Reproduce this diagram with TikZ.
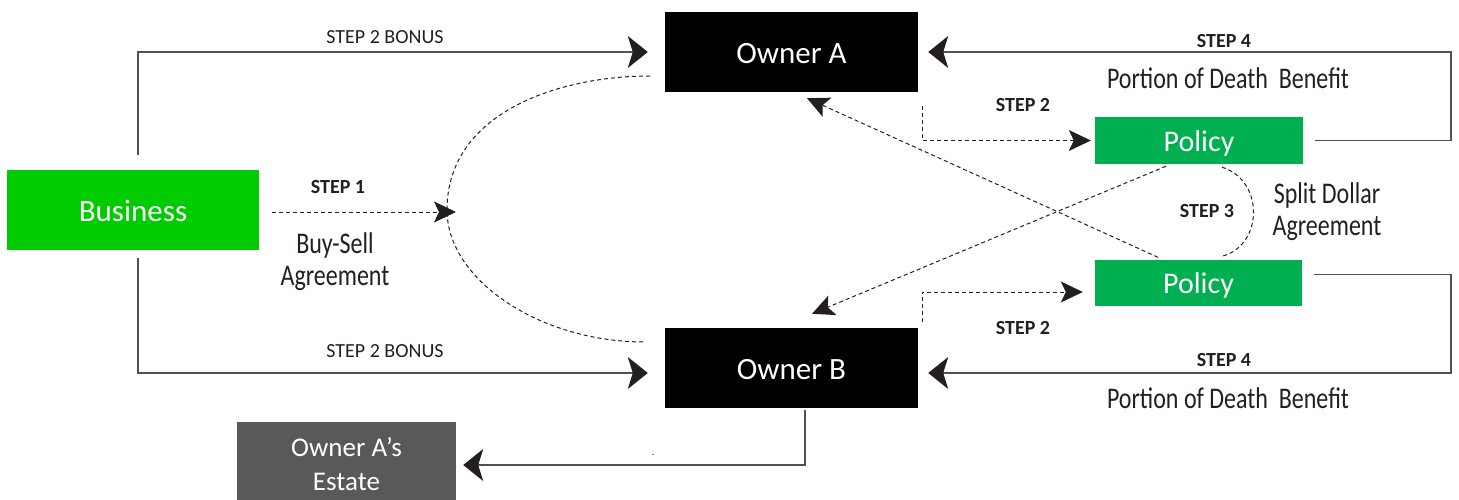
\documentclass[tikz,border=0pt]{standalone}
\usepackage{fontspec}
\setmainfont{Carlito}
\newfontfamily\condfont[FakeStretch=0.8]{Carlito}
\usetikzlibrary{arrows.meta,calc}
\definecolor{bizgreen}{RGB}{0,204,0}
\definecolor{polgreen}{RGB}{0,176,80}
\definecolor{estgray}{RGB}{89,89,89}
\definecolor{ink}{RGB}{35,31,32}
\newcommand{\dropdown}[2]{\raisebox{-#1}[\height][\depth]{#2}}
\begin{document}
\begin{tikzpicture}[x=1pt,y=-1pt,
  box/.style={inner sep=0pt, text=white},
  bigtext/.style={font=\fontsize{31}{36}\selectfont},
  soltip/.style={-{Stealth[length=20pt,width=32pt,inset=5pt,color=ink]}},
  solidarrow/.style={draw=ink!78, line width=1.3pt, soltip},
  dashline/.style={draw=ink, line width=1pt, dash pattern=on 4pt off 3pt},
  dasharrow/.style={dashline, -{Stealth[length=22pt,width=21pt,inset=5pt,color=ink]}},
  lab/.style={font=\fontsize{20}{24}\selectfont, text=ink},
  blab/.style={font=\bfseries\fontsize{20}{24}\selectfont, text=ink},
  clab/.style={font=\condfont\fontsize{30}{32}\selectfont, text=ink, align=center}
]
\useasboundingbox (0,0) rectangle (1459,500);

% boxes
\node[box, bigtext, fill=bizgreen, minimum width=252pt, minimum height=80pt] (business) at (133,210) {\dropdown{1pt}{Business}};
\node[box, bigtext, fill=black, minimum width=253pt, minimum height=80pt] (ownerA) at (791.5,52) {\dropdown{2pt}{Owner A}};
\node[box, bigtext, fill=black, minimum width=253pt, minimum height=80pt] (ownerB) at (791.5,368) {\dropdown{2pt}{Owner B}};
\node[box, font=\fontsize{30}{36}\selectfont, fill=polgreen, minimum width=208pt, minimum height=47pt] (policyA) at (1199,140.5) {\dropdown{3pt}{Policy}};
\node[box, font=\fontsize{30}{36}\selectfont, fill=polgreen, minimum width=207pt, minimum height=46pt] (policyB) at (1198.5,282.5) {\dropdown{3pt}{Policy}};
\node[box, font=\fontsize{27}{34}\selectfont, fill=estgray, minimum width=219pt, minimum height=80pt, align=center] (estate) at (346.5,462) {\dropdown{2pt}{Owner A’s}\\\dropdown{2pt}{Estate}};

% corner coordinates
\coordinate (cA) at (1451,52);
\coordinate (cB) at (1451,373);
\coordinate (s1) at (456,212);
\coordinate (ea) at ($(ownerA.west)+(-15,24)$);
\coordinate (eb) at ($(ownerB.west)+(-20,-26)$);

% solid connectors
\draw[solidarrow, shorten >=17pt] ([xshift=5pt,yshift=15pt]business.north) |- (ownerA.west);
\draw[solidarrow, shorten >=17pt] ([xshift=5pt,yshift=-8pt]business.south) |- ([yshift=-5pt]ownerB.west);
\draw[solidarrow, shorten >=10pt] ([xshift=12pt]policyA.east) -| (cA) -- (ownerA.east);
\draw[solidarrow, shorten >=10pt] ([xshift=12pt,yshift=8pt]policyB.east) -| (cB) -- ([yshift=-5pt]ownerB.east);
\draw[solidarrow, shorten >=7pt] ([xshift=13.5pt,yshift=-2pt]ownerB.south) |- ([yshift=-3pt]estate.east);

% dashed connectors
\draw[dashline] (ea) .. controls (560,76) and (447,112) .. (447,210) .. controls (447,280) and (540,342) .. (eb);
\draw[dasharrow] ([xshift=13pt,yshift=-2pt]business.east) -- (s1);
\draw[dasharrow, shorten >=4pt] ([xshift=4pt,yshift=-14pt]ownerA.south east) |- (policyA.west);
\draw[dasharrow, shorten >=12pt] ([xshift=4pt,yshift=6pt]ownerB.north east) |- ([yshift=-9.5pt]policyB.west);
\draw[dasharrow] ($(policyB.north)+(-40.5,-2)$) -- ($(ownerA.south)+(15.5,6)$);
\draw[dasharrow] ($(policyA.south)+(-33,2)$) -- ($(ownerB.north)+(20.5,-14)$);
\draw[dashline] ($(policyA.south)+(23,3)$) .. controls (1264,180) and (1264,245) .. ($(policyB.north)+(23.5,-3)$);

% labels
\node[lab] (lb1) at (385,37.5) {STEP 2 BONUS};
\node[lab] (lb2) at (385,351) {STEP 2 BONUS};
\node[blab] (ls1) at (338,187) {STEP 1};
\node[clab] (lbs) at (335,262) {Buy-Sell\\Agreement};
\node[blab] (ls2a) at (1023,105) {STEP 2};
\node[blab] (ls2b) at (1023,328) {STEP 2};
\node[blab] (ls4a) at (1224,41.5) {STEP 4};
\node[blab] (ls4b) at (1224,360) {STEP 4};
\node[clab] (lpa) at (1228,78) {Portion of Death\ \ Benefit};
\node[clab] (lpb) at (1228,398) {Portion of Death\ \ Benefit};
\node[blab] (ls3) at (1207,211.5) {STEP 3};
\node[clab] (lsd) at (1327,212) {Split Dollar\\Agreement};
\node[font=\fontsize{8}{8}\selectfont, text=ink] (dot) at (653,456) {-};
\end{tikzpicture}
\end{document}
